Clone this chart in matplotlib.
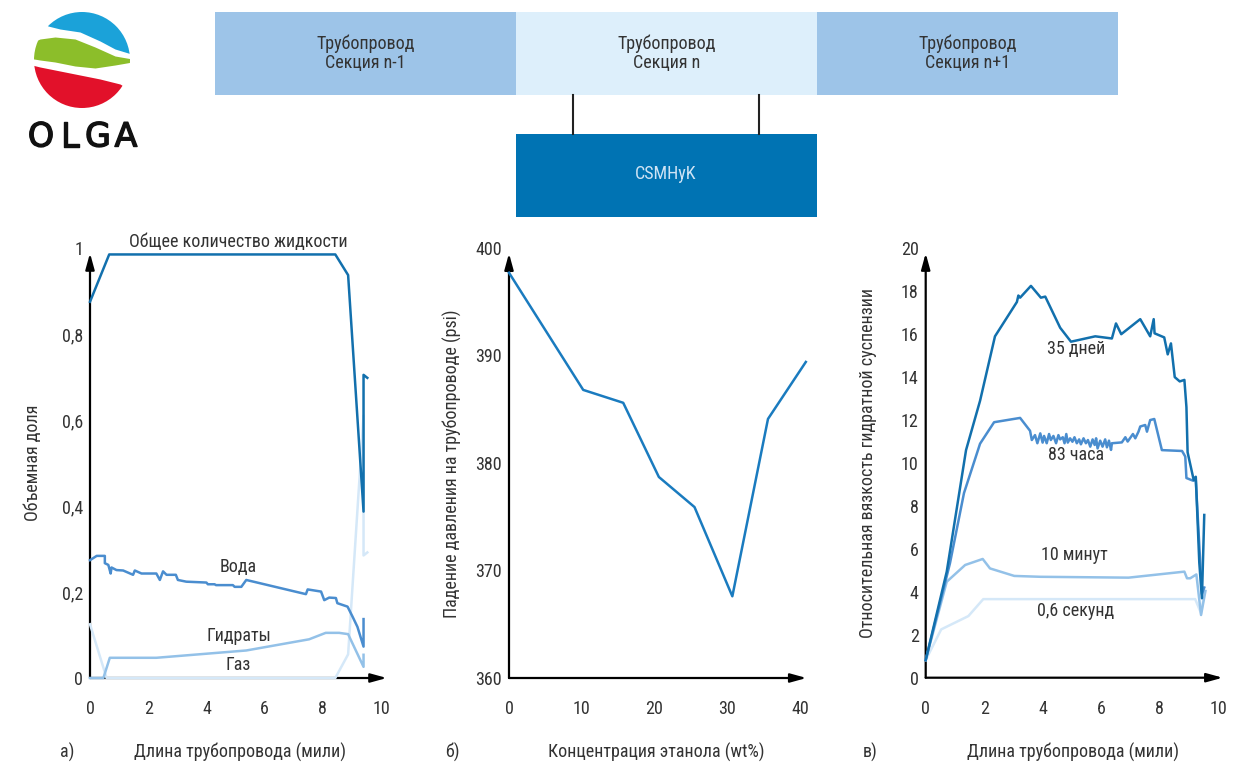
import matplotlib
matplotlib.use("Agg")
import matplotlib.pyplot as plt
import matplotlib.patheffects as pe
from matplotlib import font_manager
from matplotlib.patches import Rectangle, Circle

# prefer a condensed face when one is installed
_names = {f.name for f in font_manager.fontManager.ttflist}
_fam = [n for n in ["Roboto Condensed", "Roboto", "DejaVu Sans"] if n in _names]
plt.rcParams['font.family'] = _fam

W, H = 1246, 763
TXT = "#333333"
FS = 13 if _fam[0] == "Roboto Condensed" else 11.5

# ---- panel a: volume fractions along the pipeline ----
liq_x = [0, 0.66, 8.43, 8.87, 9.40, 9.40, 9.53]
liq_y = [0.875, 0.985, 0.985, 0.937, 0.387, 0.705, 0.698]

water_x = [0, 0.23, 0.51, 0.51, 0.63, 0.71, 0.74, 0.91, 1.14, 1.48, 1.54, 1.77, 2.28, 2.40,
           2.51, 2.63, 2.95, 3.02, 3.31, 4.00, 4.05, 4.28, 4.33, 4.91, 4.97, 5.20, 5.37,
           7.42, 7.48, 7.94, 8.05, 8.22, 8.45, 8.50, 8.85, 9.02, 9.19, 9.40, 9.40]
water_y = [0.274, 0.284, 0.284, 0.267, 0.263, 0.243, 0.257, 0.251, 0.250, 0.240, 0.250, 0.243,
           0.243, 0.228, 0.248, 0.240, 0.240, 0.228, 0.224, 0.222, 0.218, 0.218, 0.216,
           0.216, 0.212, 0.212, 0.228, 0.195, 0.206, 0.201, 0.181, 0.187, 0.186, 0.174,
           0.166, 0.143, 0.119, 0.073, 0.137]

hyd_x = [0, 0.46, 0.68, 2.28, 5.37, 7.53, 8.10, 8.56, 8.87, 9.40, 9.40]
hyd_y = [0, 0, 0.047, 0.047, 0.064, 0.090, 0.105, 0.105, 0.102, 0.026, 0.054]

gas_x = [0, 0.57, 8.43, 8.87, 9.40, 9.40, 9.53]
gas_y = [0.125, 0, 0, 0.055, 0.610, 0.285, 0.292]

# ---- panel b: pressure drop vs ethanol ----
eth_x = [0, 10.2, 15.7, 20.6, 25.5, 30.7, 35.6, 40.8]
dp_y = [397.7, 386.8, 385.6, 378.7, 375.9, 367.6, 384.1, 389.4]

# ---- panel c: relative slurry viscosity ----
d35_x = [0, 0.72, 1.38, 1.86, 2.37, 3.12, 3.17, 3.23, 3.60, 3.94, 4.09, 4.60, 4.97, 5.80,
         6.37, 6.51, 6.69, 7.34, 7.68, 7.80, 7.83, 8.16, 8.28, 8.39, 8.52, 8.69, 8.85,
         8.92, 8.96, 9.17, 9.24, 9.36, 9.45, 9.53]
d35_y = [0.82, 4.94, 10.6, 12.9, 15.9, 17.5, 17.8, 17.7, 18.25, 17.7, 17.75, 16.3, 15.65,
         15.9, 15.8, 16.5, 16.0, 16.7, 15.9, 16.7, 16.04, 15.85, 15.06, 15.57, 14.0, 13.8,
         13.87, 12.6, 10.5, 9.2, 9.36, 5.36, 3.7, 7.58]

h83_x = [0, 0.83, 1.31, 1.86, 2.34, 3.23, 3.57, 3.63, 3.74, 3.82, 3.92, 4.00, 4.05, 4.14,
         4.22, 4.28, 4.37, 4.46, 4.54, 4.60, 4.69, 4.75, 4.81, 4.86, 4.94, 5.02, 5.09,
         5.17, 5.25, 5.31, 5.40, 5.48, 5.55, 5.63, 5.71, 5.78, 5.83, 5.88, 5.97, 6.05,
         6.14, 6.20, 6.27, 6.34, 6.37, 6.71, 6.83, 6.91, 7.09, 7.17, 7.28, 7.34, 7.51,
         7.57, 7.68, 7.82, 8.08, 8.77, 8.88, 8.92, 9.14, 9.24, 9.45, 9.53]
h83_y = [0.82, 5.33, 8.6, 10.9, 11.9, 12.1, 11.5, 11.07, 11.30, 10.92, 11.38, 10.95, 11.26,
         10.92, 11.35, 11.07, 11.26, 10.92, 11.30, 11.10, 11.20, 10.92, 11.35, 10.95,
         11.15, 10.99, 11.20, 10.92, 11.10, 10.87, 11.15, 10.92, 11.07, 10.76, 11.10,
         10.84, 11.15, 10.68, 11.04, 10.76, 11.10, 10.73, 11.04, 10.61, 10.92, 10.96,
         11.2, 11.0, 11.35, 11.15, 11.46, 11.7, 11.77, 11.46, 12.0, 12.05, 10.6, 10.56,
         10.3, 9.3, 9.18, 9.2, 3.9, 4.2]

m10_x = [0, 0.72, 1.35, 1.95, 2.20, 3.03, 3.92, 6.94, 8.85, 8.94, 9.05, 9.26, 9.42, 9.57]
m10_y = [0.82, 4.47, 5.25, 5.53, 5.09, 4.74, 4.70, 4.66, 4.94, 4.63, 4.63, 4.81, 2.92, 4.04]

s06_x = [0, 0.53, 1.46, 1.97, 9.22, 9.42, 9.54]
s06_y = [0.82, 2.25, 2.87, 3.66, 3.66, 3.00, 4.00]

curve_labels = ["35 дней", "83 часа", "10 минут", "0,6 секунд"]

C_DARK = "#1270ad"
C_MID = "#4a8dcf"
C_LIGHT = "#93c1e8"
C_PALE = "#d5e8f8"

fig = plt.figure(figsize=(W / 100, H / 100), dpi=100)


def px_axes(x0, y0, x1, y1):
    return fig.add_axes([x0 / W, 1 - y1 / H, (x1 - x0) / W, (y1 - y0) / H])


def ftext(x, y, s, **kw):
    kw.setdefault("color", TXT)
    kw.setdefault("fontsize", FS)
    kw.setdefault("ha", "center")
    kw.setdefault("va", "center")
    fig.text(x / W, 1 - y / H, s, **kw)


def setup(ax, xlim, ylim, xticks, yticks, ylabels, xend, yend):
    ax.set_xlim(*xlim)
    ax.set_ylim(*ylim)
    for s in ax.spines.values():
        s.set_visible(False)
    ax.patch.set_alpha(0)
    ax.set_xticks(xticks)
    ax.set_yticks(yticks)
    ax.set_yticklabels(ylabels)
    ax.tick_params(length=0, labelsize=FS, colors=TXT)
    ax.tick_params(axis="x", pad=16)
    ax.tick_params(axis="y", pad=5)
    arrow = dict(arrowstyle="-|>,head_length=0.8,head_width=0.22", color="black",
                 lw=1.6, shrinkA=0, shrinkB=0, mutation_scale=12)
    ax.annotate("", xy=(xend, ylim[0]), xytext=(xlim[0], ylim[0]),
                arrowprops=arrow, annotation_clip=False, zorder=1)
    ax.annotate("", xy=(xlim[0], yend), xytext=(xlim[0], ylim[0]),
                arrowprops=arrow, annotation_clip=False, zorder=1)


# ---------------- header: logo ----------------
lg = px_axes(28, 8, 138, 112)
lg.set_xlim(28, 138)
lg.set_ylim(112, 8)
lg.axis("off")
disc = Circle((82, 60), 48, transform=lg.transData, facecolor="none", edgecolor="none")
lg.add_patch(disc)
bx = [28, 48, 60, 80, 100, 115, 138]
b_lo = [10, 26, 29, 32, 41, 49, 56]
gx = [28, 40, 55, 75, 95, 115, 138]
g_hi = [44, 39, 37, 39, 47, 56, 60]
g_lo = [58, 60, 62, 66, 68, 65, 61]
rx = [28, 40, 60, 80, 100, 120, 138]
r_hi = [64, 67, 71, 75, 79, 84, 95]
for xs, lo, hi, col in [(bx, [0] * 7, b_lo, "#1ba2d9"),
                         (gx, g_hi, g_lo, "#8cbe2a"),
                         (rx, r_hi, [112] * 7, "#e2112a")]:
    band = lg.fill_between(xs, lo, hi, color=col, lw=0)
    band.set_clip_path(disc)
for ch, xc in zip("OLGA", [41, 70, 98, 126]):
    lg.text(xc, 137, ch, fontsize=24, color="#111111", ha="center", va="center",
            family="DejaVu Sans", clip_on=False,
            path_effects=[pe.withStroke(linewidth=1.0, foreground="#111111")])

# ---------------- header: pipeline sections ----------------
hd = px_axes(0, 0, W, H)
hd.set_xlim(0, W)
hd.set_ylim(H, 0)
hd.axis("off")
sections = ["Трубопровод\nСекция n-1", "Трубопровод\nСекция n", "Трубопровод\nСекция n+1"]
sec_colors = ["#9dc4e8", "#ddeffb", "#9dc4e8"]
for i, (lab, col) in enumerate(zip(sections, sec_colors)):
    x0 = 215 + i * 301
    hd.add_patch(Rectangle((x0, 12), 301, 83, facecolor=col, edgecolor="none"))
    hd.text(x0 + 150.5, 53, lab, fontsize=FS, color=TXT, ha="center", va="center",
            linespacing=1.05)
hd.plot([573, 573], [95, 134], color="#222222", lw=1.5)
hd.plot([759, 759], [95, 134], color="#222222", lw=1.5)
hd.add_patch(Rectangle((516, 134), 301, 83, facecolor="#0073b3", edgecolor="none"))
hd.text(666, 174, "CSMHyK", fontsize=FS, color="#cfe4f5", ha="center", va="center")

# ---------------- panel a ----------------
ax1 = px_axes(90, 248, 381, 678)
setup(ax1, (0, 10), (0, 1), [0, 2, 4, 6, 8, 10], [0, 0.2, 0.4, 0.6, 0.8, 1.0],
      ["0", "0,2", "0,4", "0,6", "0,8", "1"], 10.2, 0.988)
ax1.plot(gas_x, gas_y, color=C_PALE, lw=1.8, zorder=3, clip_on=False)
ax1.plot(hyd_x, hyd_y, color=C_LIGHT, lw=1.8, zorder=4, clip_on=False)
ax1.plot(water_x, water_y, color=C_MID, lw=1.8, zorder=5, clip_on=False)
ax1.plot(liq_x, liq_y, color=C_DARK, lw=1.8, zorder=6, clip_on=False)
ax1.text(5.1, 1.015, "Общее количество жидкости", fontsize=FS, color=TXT,
         ha="center", va="center", clip_on=False)
ax1.text(5.1, 0.258, "Вода", fontsize=FS, color=TXT, ha="center", va="center")
ax1.text(5.1, 0.098, "Гидраты", fontsize=FS, color=TXT, ha="center", va="center")
ax1.text(5.1, 0.030, "Газ", fontsize=FS, color=TXT, ha="center", va="center")
ftext(33, 463, "Объемная доля", rotation=90)
ftext(67, 752, "а)")
ftext(240, 752, "Длина трубопровода (мили)")

# ---------------- panel b ----------------
ax2 = px_axes(509, 248, 800, 678)
setup(ax2, (0, 40), (360, 400), [0, 10, 20, 30, 40], [360, 370, 380, 390, 400],
      ["360", "370", "380", "390", "400"], 40.9, 399.5)
ax2.plot(eth_x, dp_y, color="#1a7bbf", lw=1.8, zorder=3, clip_on=False)
ftext(452, 464, "Падение давления на трубопроводе (psi)", rotation=90)
ftext(452, 752, "б)")
ftext(656, 752, "Концентрация этанола (wt%)")

# ---------------- panel c ----------------
ax3 = px_axes(925.7, 248.3, 1218, 677.7)
setup(ax3, (0, 10), (0, 20), [0, 2, 4, 6, 8, 10], list(range(0, 21, 2)),
      [str(v) for v in range(0, 21, 2)], 10.16, 19.77)
ax3.plot(s06_x, s06_y, color=C_PALE, lw=1.8, zorder=3, clip_on=False)
ax3.plot(m10_x, m10_y, color=C_LIGHT, lw=1.8, zorder=4, clip_on=False)
ax3.plot(h83_x, h83_y, color=C_MID, lw=1.8, zorder=5, clip_on=False)
ax3.plot(d35_x, d35_y, color=C_DARK, lw=1.8, zorder=6, clip_on=False)
for lab, (lx, ly) in zip(curve_labels, [(5.13, 15.3), (5.13, 10.35), (5.07, 5.7), (5.13, 3.1)]):
    ax3.text(lx, ly, lab, fontsize=FS, color=TXT, ha="center", va="center")
ftext(868, 463, "Относительная вязкость гидратной суспензии", rotation=90)
ftext(870, 752, "в)")
ftext(1073, 752, "Длина трубопровода (мили)")

fig.savefig("out.png", dpi=100)
